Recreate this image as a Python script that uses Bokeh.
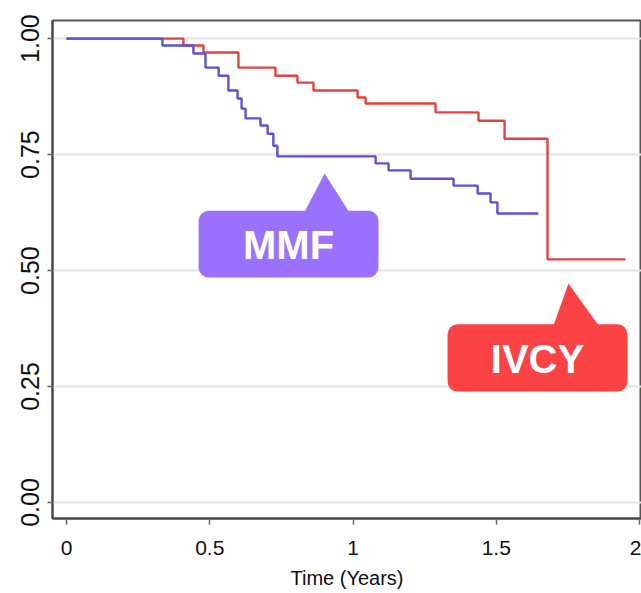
from bokeh.plotting import figure
from bokeh.models import BoxAnnotation, Label, FixedTicker, Range1d
from bokeh.embed import file_html
from bokeh.resources import INLINE

# ---- data ----
ivcy_time = [0.0, 0.408, 0.478, 0.600, 0.729, 0.806, 0.862, 1.016, 1.044, 1.288, 1.438, 1.529, 1.679, 1.951]
ivcy_surv = [1.000, 0.985, 0.970, 0.9375, 0.920, 0.905, 0.888, 0.873, 0.860, 0.841, 0.823, 0.784, 0.524, 0.524]

mmf_time = [0.0, 0.335, 0.443, 0.485, 0.531, 0.565, 0.597, 0.611, 0.625, 0.677, 0.702, 0.722, 0.736,
            1.079, 1.124, 1.201, 1.351, 1.435, 1.480, 1.504, 1.647]
mmf_surv = [1.000, 0.985, 0.968, 0.9375, 0.920, 0.888, 0.871, 0.849, 0.828, 0.8125, 0.795, 0.769, 0.746,
            0.731, 0.716, 0.698, 0.683, 0.666, 0.647, 0.623, 0.623]

x_ticks = [0, 0.5, 1, 1.5, 2]
x_tick_labels = ["0", "0.5", "1", "1.5", "2"]
y_ticks = [0, 0.25, 0.5, 0.75, 1.0]
y_tick_labels = ["0.00", "0.25", "0.50", "0.75", "1.00"]
x_title = "Time (Years)"
series_names = ["MMF", "IVCY"]

RED = "#e3433d"
BLUE = "#5a52d8"
MMF_FILL = "#9a72fd"
IVCY_FILL = "#fb4345"
FONT = "Liberation Sans"

p = figure(width=641, height=593, output_backend="svg", toolbar_location=None,
           x_range=Range1d(-0.049, 2.007), y_range=Range1d(-0.0345, 1.039),
           min_border_left=52, min_border_right=0, min_border_top=20, min_border_bottom=75)

p.background_fill_color = "white"
p.border_fill_color = "white"
p.outline_line_color = "#555555"
p.outline_line_width = 2

# grid
p.xgrid.grid_line_color = None
p.ygrid.grid_line_color = "#e4e4e4"
p.ygrid.grid_line_width = 2

# axes
p.xaxis.ticker = FixedTicker(ticks=x_ticks)
p.xaxis.major_label_overrides = {t: l for t, l in zip(x_ticks, x_tick_labels)}
p.yaxis.ticker = FixedTicker(ticks=y_ticks)
p.yaxis.major_label_overrides = {t: l for t, l in zip(y_ticks, y_tick_labels)}
p.yaxis.major_label_orientation = "parallel"
for ax in (p.xaxis[0], p.yaxis[0]):
    ax.axis_line_color = "#444444"
    ax.axis_line_width = 2
    ax.major_tick_line_color = "#666666"
    ax.major_tick_line_width = 1.5
    ax.major_tick_in = 0
    ax.minor_tick_line_color = None
    ax.major_label_text_font = FONT
    ax.major_label_text_color = "#111111"
p.xaxis.major_tick_out = 6
p.yaxis.major_tick_out = 5
p.xaxis.major_label_text_font_size = "21px"
p.yaxis.major_label_text_font_size = "25px"
p.xaxis.major_label_standoff = 16
p.yaxis.major_label_standoff = 8
p.xaxis.axis_label = x_title
p.xaxis.axis_label_text_font = FONT
p.xaxis.axis_label_text_font_style = "normal"
p.xaxis.axis_label_text_font_size = "20px"
p.xaxis.axis_label_text_color = "#111111"
p.xaxis.axis_label_standoff = 9

# curves
p.step(ivcy_time, ivcy_surv, mode="after", line_color=RED, line_width=2.4)
p.step(mmf_time, mmf_surv, mode="after", line_color=BLUE, line_width=2.4)

# callouts
def callout(left, right, bottom, top, tri_x, tri_base_y, tri_apex, color, text, tx, ty):
    box = BoxAnnotation(left=left, right=right, bottom=bottom, top=top,
                        fill_color=color, fill_alpha=1.0, line_color=None, border_radius=10)
    p.add_layout(box)
    p.patch([tri_x[0], tri_x[1], tri_apex[0]], [tri_base_y, tri_base_y, tri_apex[1]],
            fill_color=color, line_color=None)
    p.add_layout(Label(x=tx, y=ty, text=text, text_align="center", text_baseline="middle",
                       text_color="white", text_font=FONT, text_font_style="bold",
                       text_font_size="40px"))

callout(0.461, 1.089, 0.485, 0.629, (0.831, 0.986), 0.627, (0.901, 0.709), MMF_FILL, series_names[0], 0.775, 0.555)
callout(1.330, 1.958, 0.239, 0.384, (1.700, 1.857), 0.382, (1.752, 0.472), IVCY_FILL, series_names[1], 1.644, 0.310)

open("out.html", "w").write(file_html(p, INLINE))
